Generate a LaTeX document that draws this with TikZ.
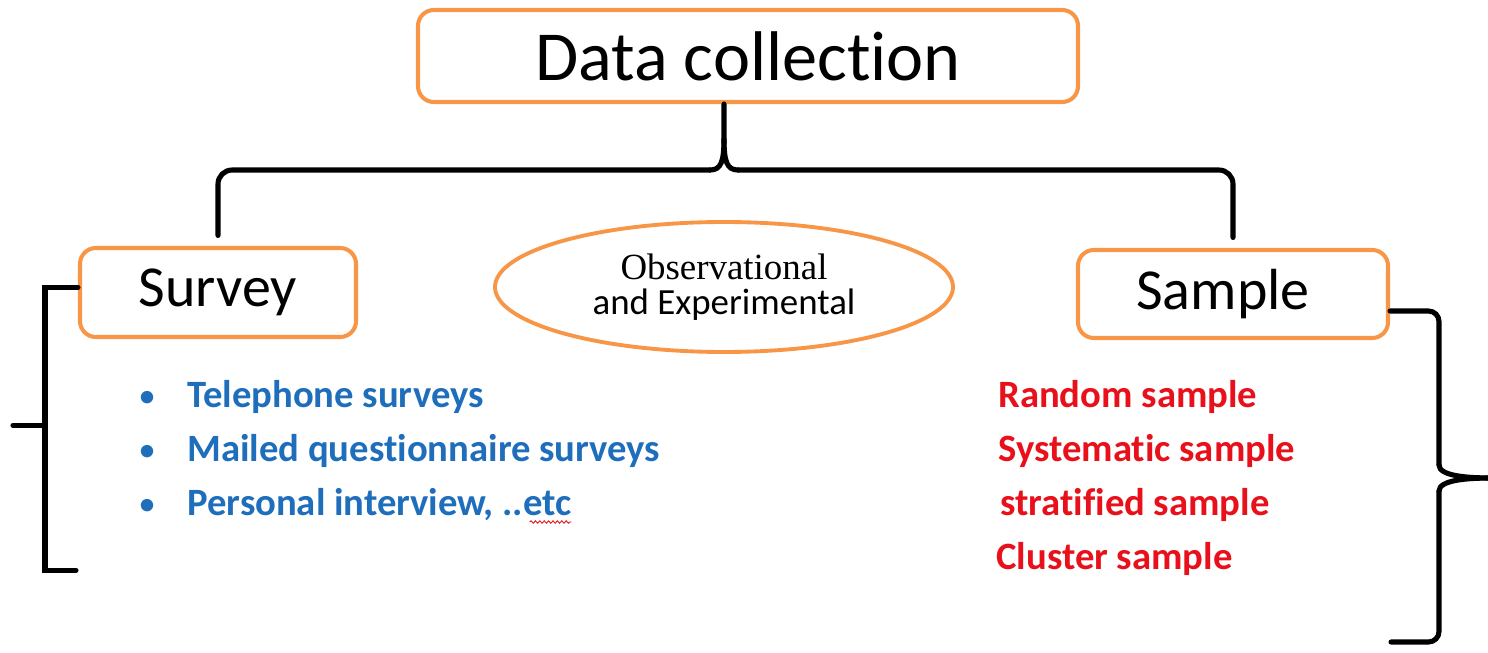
\documentclass[tikz,border=0pt]{standalone}
\usepackage{fontspec}
\setmainfont{Carlito}[Ligatures=NoCommon]
\newfontfamily\obsfont{Liberation Serif}
\usetikzlibrary{shapes.geometric}
\usetikzlibrary{decorations.pathmorphing}
\definecolor{boxorange}{HTML}{F79646}
\definecolor{listblue}{HTML}{1F6EBC}
\definecolor{listred}{HTML}{E8111B}

\begin{document}
\begin{tikzpicture}[
  box/.style={draw=boxorange, line width=2.3pt, rounded corners=9pt, inner sep=0pt},
  brace/.style={line width=2.9pt, line cap=round},
  survitem/.style={anchor=base west, inner sep=0pt, text=listblue, font=\fontsize{22}{26}\selectfont\bfseries},
  sampitem/.style={anchor=base west, inner sep=0pt, text=listred, font=\fontsize{22}{26}\selectfont\bfseries}
]
\useasboundingbox (0,0) rectangle (29.76,13.04);

% top box
\node[box, minimum width=13.2cm, minimum height=1.84cm, font=\fontsize{40}{48}\selectfont] (dc) at (14.96,11.92) {Data collection};

% the three kinds
\node[box, minimum width=5.52cm, minimum height=1.78cm, font=\fontsize{33}{40}\selectfont] (survey) at (4.36,7.19) {Survey};
\node[draw=boxorange, line width=2.2pt, ellipse, minimum width=9.16cm, minimum height=2.6cm, inner sep=0pt, align=center, font=\fontsize{21}{20}\selectfont] (obs) at (14.48,7.3) {{\obsfont Observational}\\and Experimental};
\node[box, minimum width=6.2cm, minimum height=1.76cm, font=\fontsize{33}{40}\selectfont] (sample) at (24.66,7.16) {\hspace*{-0.4cm}Sample};

% top brace
\coordinate (tip) at (dc.south -| obs.north);
\draw[brace] (tip) -- ++(0,-0.7) .. controls +(0,-0.45) and +(0.22,0) .. ++(-0.28,-0.62) coordinate (bl);
\draw[brace] (tip) ++(0,-0.7) .. controls +(0,-0.45) and +(-0.22,0) .. ++(0.28,-0.62) coordinate (br);
\draw[brace,rounded corners=8pt] (bl) -| ([yshift=6pt]survey.north);
\draw[brace,rounded corners=8pt] (br) -| ([yshift=6pt]sample.north);

% survey list
\node[anchor=base, text=listblue, font=\fontsize{20}{26}\selectfont] (b1) at (2.94,4.9) {\textbullet};
\node[anchor=base, text=listblue, font=\fontsize{20}{26}\selectfont] (b2) at (2.94,3.82) {\textbullet};
\node[anchor=base, text=listblue, font=\fontsize{20}{26}\selectfont] (b3) at (2.94,2.74) {\textbullet};
\node[survitem] (s1) at (3.74,4.9) {Telephone surveys};
\node[survitem] (s2) at (3.74,3.82) {Mailed questionnaire surveys};
\node[survitem] (s3) at (3.74,2.74) {Personal interview, ..etc};
\draw[listred, line width=0.5pt, decorate, decoration={snake,segment length=2.5pt,amplitude=0.7pt}] ([xshift=-0.84cm,yshift=-4pt]s3.base east) -- ([yshift=-4pt]s3.base east);

% left bracket
\draw[brace] ([yshift=3pt]survey.west) -- ++(-0.66,0) coordinate (lt) -- ++(0,-5.66) -- ++(0.62,0);
\draw[brace] ([yshift=-2.76cm]lt) -- ++(-0.64,0);

% sample list
\node[sampitem] (r1) at (19.96,4.9) {Random sample};
\node[sampitem] (r2) at (19.96,3.82) {Systematic sample};
\node[sampitem] (r3) at (20.0,2.74) {stratified sample};
\node[sampitem] (r4) at (19.92,1.66) {Cluster sample};

% right brace
\draw[brace,rounded corners=6pt] ([yshift=-0.34cm]sample.east) -- ++(0.98,0) -- ++(0,-3.08) coordinate (rt);
\draw[brace] (rt) .. controls +(0,-0.22) and +(-0.5,0) .. ++(1.06,-0.26) coordinate (rtip);
\draw[brace] (rtip) .. controls +(-0.5,0) and +(0,0.22) .. ++(-1.06,-0.26) coordinate (rb);
\draw[brace,rounded corners=6pt] (rb) -- ++(0,-3.02) -- ++(-0.96,0);

\end{tikzpicture}
\end{document}
